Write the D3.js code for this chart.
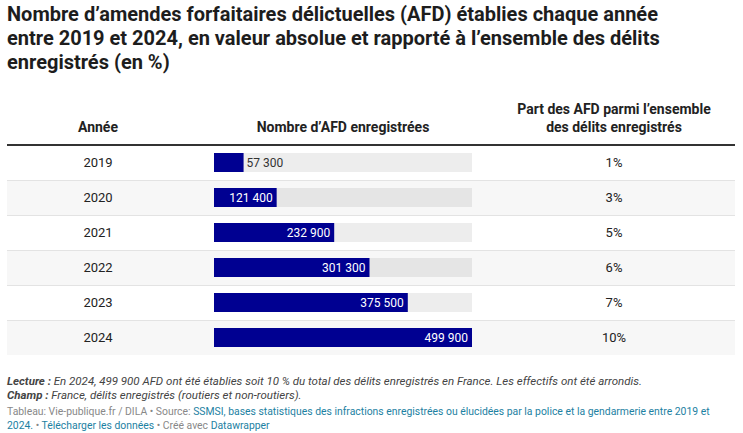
<!DOCTYPE html>
<html>
<head>
<meta charset="utf-8">
<script src="https://cdn.jsdelivr.net/npm/d3@7"></script>
<style>
  body { margin: 0; background: #fff; }
  svg { display: block; font-family: Roboto, sans-serif; }
</style>
</head>
<body>
<script>
// ---- data
const years = ['2019', '2020', '2021', '2022', '2023', '2024']
const afdCounts = [57300, 121400, 232900, 301300, 375500, 499900]
const shares = [1, 3, 5, 6, 7, 10]

const titleLines = [
  'Nombre d\u2019amendes forfaitaires délictuelles (AFD) établies chaque année',
  'entre 2019 et 2024, en valeur absolue et rapporté à l\u2019ensemble des délits',
  'enregistrés (en %)'
]

// ---- layout
const W = 743
const H = 433
const LEFT = 7
const RIGHT = 735
const HEAD_Y = 145
const ROW_H = 35
const BAR_H = 19

const fr = d3.formatLocale({ decimal: ',', thousands: ' ', grouping: [3], currency: ['', ' €'] })
const fmt = fr.format(',d')

const svg = d3.select('body').append('svg')
  .attr('width', W)
  .attr('height', H)

// title
svg.append('g').selectAll('text')
  .data(titleLines)
  .join('text')
    .attr('x', LEFT)
    .attr('y', (d, i) => 21 + i * 24)
    .attr('font-size', 20)
    .attr('font-weight', 700)
    .attr('fill', '#1d1d1d')
    .text(d => d)

const colYear = 98
const colPart = 614
const x = d3.scaleLinear()
  .domain([0, d3.max(afdCounts)])
  .range([214, 472])

// header
const head = svg.append('g')
  .attr('font-size', 14)
  .attr('font-weight', 700)
  .attr('fill', '#222')
  .attr('text-anchor', 'middle')
head.append('text').attr('x', colYear).attr('y', 132).text('Année')
head.append('text').attr('x', (x.range()[0] + x.range()[1]) / 2).attr('y', 132).text('Nombre d\u2019AFD enregistrées')
head.append('text').attr('x', colPart).attr('y', 114).text('Part des AFD parmi l\u2019ensemble')
head.append('text').attr('x', colPart).attr('y', 132).text('des délits enregistrés')

const y = d3.scaleBand()
  .domain(years)
  .range([HEAD_Y, HEAD_Y + ROW_H * years.length])

const rows = svg.append('g').selectAll('g')
  .data(years.map((year, i) => ({ year, count: afdCounts[i], share: shares[i], i })))
  .join('g')
    .attr('transform', d => `translate(0, ${y(d.year)})`)

rows.append('rect')
  .attr('x', LEFT)
  .attr('width', RIGHT - LEFT)
  .attr('height', ROW_H)
  .attr('fill', d => d.i % 2 ? '#f7f7f7' : '#fff')

rows.filter(d => d.i > 0).append('line')
  .attr('x1', LEFT)
  .attr('x2', RIGHT)
  .attr('y1', 0.5)
  .attr('y2', 0.5)
  .attr('stroke', '#e3e3e3')

rows.append('text')
  .attr('x', colYear)
  .attr('y', ROW_H / 2 + 4.5)
  .attr('text-anchor', 'middle')
  .attr('font-size', 13)
  .attr('fill', '#222')
  .text(d => d.year)

rows.append('text')
  .attr('x', colPart)
  .attr('y', ROW_H / 2 + 4.5)
  .attr('text-anchor', 'middle')
  .attr('font-size', 13)
  .attr('fill', '#222')
  .text(d => d.share + '%')

const barY = (ROW_H - BAR_H) / 2

rows.append('rect')
  .attr('x', x(0))
  .attr('y', barY)
  .attr('width', x.range()[1] - x(0))
  .attr('height', BAR_H)
  .attr('fill', '#000')
  .attr('fill-opacity', 0.07)

rows.append('rect')
  .attr('x', x(0))
  .attr('y', barY)
  .attr('width', d => x(d.count) - x(0))
  .attr('height', BAR_H)
  .attr('fill', '#000091')

rows.append('text')
  .attr('y', ROW_H / 2 + 4)
  .attr('font-size', 12)
  .text(d => fmt(d.count))
  .each(function (d) {
    const t = d3.select(this)
    const w = this.getComputedTextLength()
    const barW = x(d.count) - x(0)
    if (w + 8 < barW) {
      t.attr('x', x(d.count) - 4).attr('text-anchor', 'end').attr('fill', '#fff')
    } else {
      t.attr('x', x(d.count) + 3).attr('fill', '#333')
    }
  })

// header rule
svg.append('line')
  .attr('x1', LEFT)
  .attr('x2', RIGHT)
  .attr('y1', HEAD_Y)
  .attr('y2', HEAD_Y)
  .attr('stroke', '#333')
  .attr('stroke-width', 2)

// notes
const notes = svg.append('g').attr('font-size', 11.5).attr('font-style', 'italic').attr('fill', '#444')
const n1 = notes.append('text').attr('x', LEFT).attr('y', 385)
n1.append('tspan').attr('font-weight', 700).text('Lecture : ')
n1.append('tspan').text('En 2024, 499 900 AFD ont été établies soit 10 % du total des délits enregistrés en France. Les effectifs ont été arrondis.')
const n2 = notes.append('text').attr('x', LEFT).attr('y', 398.5)
n2.append('tspan').attr('font-weight', 700).text('Champ : ')
n2.append('tspan').text('France, délits enregistrés (routiers et non-routiers).')

const foot = svg.append('g').attr('font-size', 10.4).attr('fill', '#888')
const f1 = foot.append('text').attr('x', LEFT).attr('y', 415)
f1.append('tspan').text('Tableau: Vie-publique.fr / DILA \u2022 Source: ')
f1.append('tspan').attr('fill', '#1d81a2').text('SSMSI, bases statistiques des infractions enregistrées ou élucidées par la police et la gendarmerie entre 2019 et')
const f2 = foot.append('text').attr('x', LEFT).attr('y', 428.5)
f2.append('tspan').attr('fill', '#1d81a2').text('2024.')
f2.append('tspan').text('  \u2022 ')
f2.append('tspan').attr('fill', '#1d81a2').text('Télécharger les données')
f2.append('tspan').text(' \u2022 Créé avec ')
f2.append('tspan').attr('fill', '#1d81a2').text('Datawrapper')
</script>
</body>
</html>
